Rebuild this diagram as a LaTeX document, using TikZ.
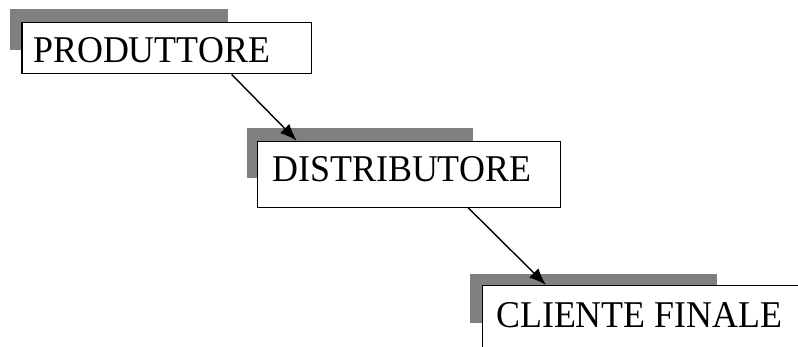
\documentclass[tikz,border=0pt]{standalone}
\usepackage{fontspec}
\newfontfamily\boxfont[FakeStretch=0.95]{Liberation Serif}
\usetikzlibrary{arrows.meta,calc}
\tikzset{
  shadowbox/.style={fill=black!50, draw=none, anchor=north west, inner sep=0pt},
  stagebox/.style={fill=white, draw=black, line width=1.2pt, anchor=north west, inner sep=0pt},
  stagetext/.style={anchor=base west, inner sep=0pt, font=\boxfont\fontsize{37.8}{42}\selectfont},
  flow/.style={line width=1.4pt, -{Latex[length=17pt,width=13pt]}}
}
\begin{document}
\begin{tikzpicture}[x=1pt, y=-1pt]
  \useasboundingbox (0,0) rectangle (798,347);
  \clip (0,0) rectangle (798,347);

  % Producer
  \node[shadowbox, minimum width=218pt, minimum height=41pt] (ps) at (10,9.3) {};
  \node[stagebox, minimum width=289.4pt, minimum height=51.6pt] (p) at (21.3,21.7) {};
  \node[stagetext] (pt) at (33,62.3) {PRODUTTORE};

  % Distributor
  \node[shadowbox, minimum width=226.3pt, minimum height=49.7pt] (ds) at (246.7,128.3) {};
  \node[stagebox, minimum width=303pt, minimum height=66pt] (d) at (257,140.7) {};
  \node[stagetext] (dt) at (272.2,181.7) {DISTRIBUTORE};

  % End customer
  \node[shadowbox, minimum width=246.7pt, minimum height=49pt] (cs) at (470,274) {};
  \node[stagebox, minimum width=340pt, minimum height=90pt] (c) at (481.7,285) {};
  \node[stagetext] (ct) at (496,327) {CLIENTE FINALE};

  % Connectors
  \coordinate (a1s) at ($(p.south west)+(210.4,0)$);
  \coordinate (a1e) at ($(d.north west)+(39.7,0)$);
  \coordinate (a2s) at ($(d.south west)+(211.3,0)$);
  \coordinate (a2e) at ($(c.north west)+(64.3,0)$);
  \draw[flow] (a1s) -- (a1e);
  \draw[flow] (a2s) -- (a2e);
\end{tikzpicture}
\end{document}
